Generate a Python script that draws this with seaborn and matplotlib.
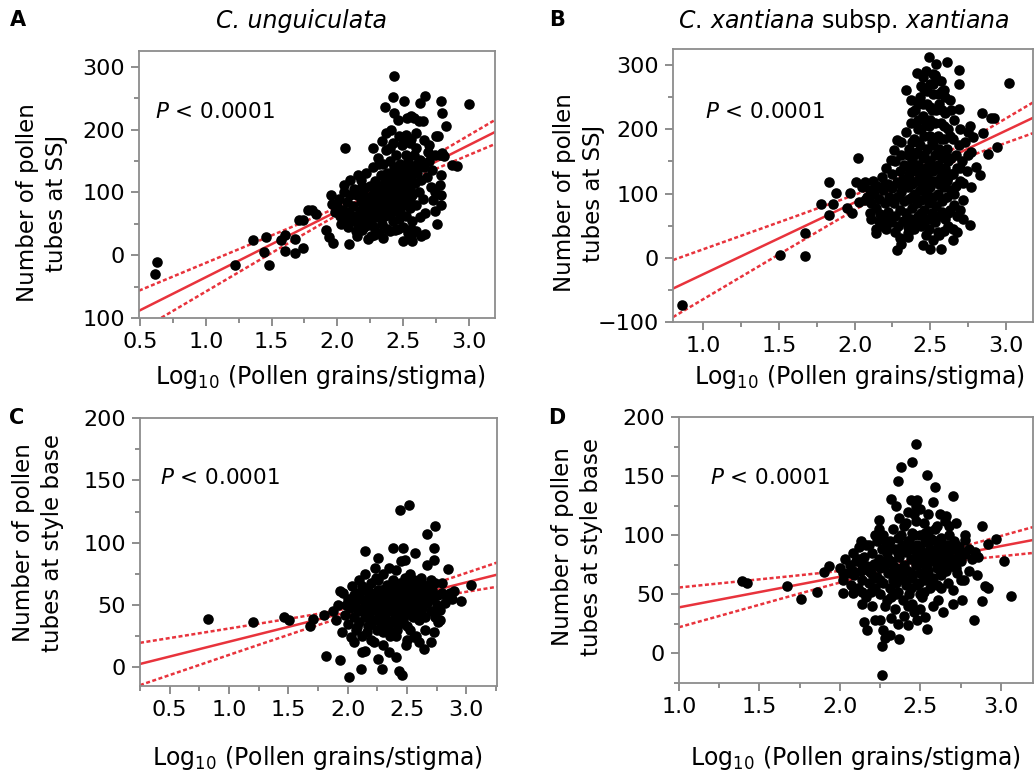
import numpy as np
import pandas as pd
import matplotlib
matplotlib.use("Agg")
import matplotlib.pyplot as plt
import seaborn as sns
from matplotlib.ticker import MultipleLocator, FormatStrFormatter, FixedLocator, FixedFormatter

sns.set_style("ticks")
plt.rcParams["font.family"] = ["DejaVu Sans"]
plt.rcParams["mathtext.fontset"] = "dejavusans"
plt.rcParams["text.color"] = "black"
plt.rcParams["xtick.labelcolor"] = "black"
plt.rcParams["ytick.labelcolor"] = "black"

RED = "#e8333c"

# Panel A: C. unguiculata, pollen tubes at SSJ  (log10 pollen grains/stigma, count)
ssj_ung = [
    (0.61, -30), (0.63, -11), (1.22, -16), (1.36, 24), (1.46, 29), (1.44, 5), (1.48, -16),
    (1.57, 24), (1.60, 32), (1.60, 6), (1.68, 26), (1.68, 4), (1.74, 12), (1.71, 56),
    (1.74, 56), (1.78, 72), (1.81, 72), (1.84, 65), (1.91, 40), (1.94, 29), (1.97, 20),
    (2.06, 171), (2.09, 17), (2.26, 30),
    (1.95, 95), (1.96, 82), (1.98, 68), (2.00, 78), (2.01, 90), (2.02, 62), (2.03, 50),
    (2.04, 72), (2.05, 112), (2.05, 100), (2.06, 58), (2.07, 84), (2.08, 45), (2.09, 68),
    (2.10, 95), (2.10, 120), (2.11, 55), (2.13, 105), (2.14, 38), (2.16, 128), (2.19, 110),
    (2.23, 25), (2.28, 32),
    (2.12, 78), (2.14, 62), (2.15, 95), (2.16, 50), (2.17, 70), (2.18, 85), (2.18, 120),
    (2.19, 40), (2.20, 105), (2.20, 58), (2.21, 75), (2.22, 92), (2.22, 130), (2.23, 48),
    (2.24, 66), (2.25, 110), (2.25, 84), (2.26, 55), (2.27, 140), (2.27, 98), (2.28, 72),
    (2.28, 45), (2.29, 118), (2.30, 88), (2.30, 60), (2.31, 155), (2.31, 102), (2.32, 78),
    (2.32, 35), (2.33, 128), (2.33, 92), (2.34, 68), (2.34, 50), (2.35, 145), (2.35, 112),
    (2.36, 85), (2.36, 62), (2.37, 168), (2.37, 100), (2.38, 130), (2.38, 75), (2.38, 42),
    (2.39, 115), (2.39, 92), (2.40, 150), (2.40, 65), (2.41, 105), (2.41, 80), (2.42, 178),
    (2.42, 125), (2.42, 55), (2.43, 140), (2.43, 95), (2.44, 110), (2.44, 70), (2.44, 40),
    (2.45, 160), (2.45, 85), (2.46, 130), (2.46, 100), (2.47, 120), (2.47, 58), (2.48, 145),
    (2.48, 90), (2.48, 72), (2.49, 175), (2.50, 110), (2.50, 80), (2.50, 45), (2.51, 135),
    (2.51, 98), (2.52, 160), (2.52, 62), (2.53, 118), (2.53, 88), (2.54, 148), (2.54, 35),
    (2.55, 105), (2.55, 75), (2.56, 128), (2.56, 185), (2.57, 95), (2.57, 55), (2.58, 140),
    (2.59, 115), (2.60, 80), (2.60, 170), (2.61, 130), (2.62, 100), (2.63, 152), (2.63, 60),
    (2.64, 120), (2.65, 90), (2.66, 140), (2.66, 183), (2.68, 125), (2.70, 150), (2.71, 108),
    (2.72, 135), (2.74, 100),
    (2.36, 236), (2.42, 252), (2.43, 226), (2.51, 245), (2.63, 243), (2.67, 254), (2.79, 245),
    (2.80, 226), (2.83, 205), (3.00, 240), (2.77, 189), (2.87, 143), (2.91, 142), (2.79, 128),
    (2.78, 112), (2.79, 96), (2.79, 80), (2.73, 88), (2.74, 70), (2.76, 50), (2.67, 67),
    (2.67, 33), (2.57, 22), (2.56, 41), (2.80, 163), (2.74, 160), (2.37, 194), (2.58, 218),
    (2.56, 221), (2.62, 213), (2.65, 213), (2.53, 218), (2.43, 285), (2.46, 215), (2.41, 200),
    (2.52, 192), (2.60, 194), (2.75, 190), (2.27, 170), (2.34, 182), (2.50, 180), (2.55, 178),
    (2.69, 165), (2.78, 160), (2.81, 158), (2.70, 175), (2.56, 30), (2.60, 38), (2.64, 30),
    (2.50, 22), (2.46, 42), (2.40, 38), (2.35, 28), (2.20, 45), (2.15, 30),
    (2.30, 110), (2.33, 80), (2.36, 120), (2.39, 85), (2.41, 130), (2.44, 95), (2.46, 72),
    (2.49, 125), (2.52, 105), (2.55, 90), (2.58, 160), (2.61, 145), (2.47, 190), (2.40, 170),
    (2.32, 145), (2.26, 80), (2.22, 68), (2.18, 95), (2.53, 135), (2.57, 118),
]

# Panel B: C. xantiana subsp. xantiana, pollen tubes at SSJ
ssj_xan = [
    (0.86, -73), (1.51, 5), (1.67, 3), (1.67, 39), (1.78, 84), (1.83, 118), (1.83, 66),
    (1.86, 84), (1.88, 101), (1.95, 78), (1.97, 101), (1.98, 69), (2.02, 155), (2.01, 118),
    (2.03, 87), (2.07, 90), (2.10, 69), (2.11, 61), (2.14, 45), (2.14, 38), (2.28, 12),
    (2.31, 22), (2.35, 32), (2.45, 20), (2.50, 14), (2.57, 14), (2.56, 35), (2.65, 27),
    (2.65, 45), (2.76, 51), (3.02, 272), (2.84, 225), (2.90, 217), (2.92, 217), (2.85, 194),
    (2.94, 173), (2.88, 162), (2.83, 129), (2.80, 142), (2.77, 165), (2.78, 188), (2.75, 196),
    (2.72, 116), (2.77, 110), (2.69, 292), (2.69, 271), (2.69, 232), (2.61, 305), (2.54, 302),
    (2.49, 313), (2.41, 287), (2.52, 286), (2.34, 261), (2.37, 245), (2.38, 227), (2.28, 183),
    (2.26, 167), (2.24, 152), (2.31, 180), (2.45, 282), (2.52, 271), (2.59, 261),
    (2.05, 110), (2.07, 118), (2.08, 95), (2.10, 105), (2.11, 85), (2.12, 120), (2.13, 100),
    (2.14, 78), (2.15, 112), (2.16, 92), (2.17, 68), (2.18, 125), (2.19, 105), (2.20, 85),
    (2.20, 60), (2.21, 140), (2.22, 115), (2.22, 72), (2.23, 95), (2.24, 55), (2.25, 130),
    (2.25, 108), (2.16, 58), (2.18, 50), (2.21, 45), (2.23, 62),
    (2.26, 85), (2.27, 150), (2.27, 65), (2.28, 118), (2.28, 95), (2.29, 50), (2.30, 135),
    (2.30, 75), (2.31, 160), (2.31, 102), (2.32, 58), (2.32, 122), (2.33, 88), (2.33, 145),
    (2.34, 70), (2.34, 195), (2.35, 110), (2.35, 48), (2.36, 170), (2.36, 130), (2.36, 92),
    (2.37, 60), (2.37, 210), (2.38, 150), (2.38, 115), (2.38, 78), (2.39, 185), (2.39, 98),
    (2.40, 135), (2.40, 55), (2.40, 230),
    (2.41, 165), (2.41, 120), (2.41, 85), (2.42, 200), (2.42, 145), (2.42, 65), (2.43, 105),
    (2.43, 250), (2.43, 175), (2.44, 130), (2.44, 90), (2.44, 50), (2.45, 220), (2.45, 155),
    (2.45, 115), (2.46, 75), (2.46, 190), (2.46, 262), (2.47, 140), (2.47, 100), (2.47, 60),
    (2.48, 240), (2.48, 170), (2.48, 125), (2.49, 85), (2.49, 205), (2.49, 45), (2.50, 150),
    (2.50, 110), (2.50, 270), (2.51, 180), (2.51, 70), (2.51, 230), (2.52, 135), (2.52, 95),
    (2.52, 255), (2.53, 160), (2.53, 55), (2.53, 210), (2.54, 120), (2.54, 80), (2.54, 280),
    (2.55, 190), (2.55, 145), (2.55, 100), (2.55, 40),
    (2.56, 240), (2.56, 170), (2.56, 65), (2.57, 125), (2.57, 210), (2.58, 155), (2.58, 88),
    (2.58, 260), (2.59, 185), (2.59, 110), (2.60, 140), (2.60, 60), (2.60, 225), (2.61, 170),
    (2.61, 95), (2.62, 200), (2.62, 125), (2.63, 75), (2.63, 245), (2.64, 155), (2.64, 105),
    (2.65, 185), (2.65, 130), (2.66, 82), (2.66, 215), (2.67, 160), (2.67, 112), (2.68, 140),
    (2.68, 65), (2.69, 175), (2.70, 120), (2.70, 200), (2.71, 150), (2.72, 90), (2.73, 180),
    (2.74, 135), (2.75, 160), (2.76, 205),
    (2.27, 40), (2.30, 30), (2.35, 38), (2.39, 45), (2.47, 35), (2.52, 28), (2.59, 42),
    (2.62, 50), (2.68, 40), (2.70, 75), (2.72, 60),
    (2.44, 268), (2.47, 290), (2.53, 285), (2.57, 275), (2.60, 250), (2.50, 215), (2.42, 240),
    (2.38, 180), (2.35, 160), (2.64, 230),
    (2.36, 140), (2.37, 120), (2.39, 160), (2.40, 100), (2.41, 140), (2.42, 180), (2.43, 125),
    (2.44, 200), (2.45, 135), (2.46, 160), (2.47, 210), (2.48, 105), (2.49, 150), (2.50, 190),
    (2.51, 120), (2.52, 175), (2.53, 140), (2.54, 230), (2.55, 165), (2.56, 115), (2.57, 185),
    (2.58, 135), (2.59, 205), (2.60, 160), (2.61, 120), (2.62, 150), (2.63, 190), (2.64, 130),
    (2.45, 240), (2.50, 235), (2.55, 255), (2.48, 260), (2.42, 215), (2.58, 230), (2.46, 110),
    (2.50, 90), (2.54, 65), (2.58, 72), (2.44, 70), (2.38, 95), (2.33, 110), (2.30, 115),
    (2.25, 90), (2.20, 115), (2.62, 70), (2.66, 100), (2.70, 140), (2.50, 60), (2.46, 55),
]

# Panel C: C. unguiculata, pollen tubes at style base
base_ung = [
    (0.82, 39), (1.20, 36), (1.46, 40), (1.51, 38), (1.68, 33), (1.71, 39), (1.80, 42),
    (1.82, 9), (1.94, 6), (2.01, -8), (2.11, -1), (2.29, -1), (2.43, -3), (2.46, -6),
    (2.41, 8), (2.26, 7), (2.35, 12), (2.15, 13), (2.44, 126), (2.52, 130), (2.74, 113),
    (2.67, 107), (2.73, 96), (2.73, 86), (2.67, 82), (2.15, 93), (2.26, 88), (2.38, 96),
    (2.47, 96), (2.57, 92), (2.48, 86), (2.85, 79), (3.04, 66), (2.96, 53), (2.90, 61),
    (2.88, 55), (2.73, 28), (2.64, 15), (2.49, 18), (2.60, 20), (2.56, 24), (2.41, 25),
    (1.94, 61),
    (1.88, 45), (1.90, 38), (1.92, 50), (1.95, 28), (1.96, 60), (1.98, 42), (2.00, 35),
    (2.00, 55), (2.02, 48), (2.03, 24), (2.04, 65), (2.05, 40), (2.06, 52), (2.07, 30),
    (2.08, 60), (2.09, 45), (2.10, 70), (2.10, 36), (2.11, 55), (2.12, 25), (2.13, 48),
    (2.14, 62), (2.15, 40), (2.15, 75), (2.16, 52), (2.17, 33), (2.18, 58), (2.19, 45),
    (2.20, 68), (2.20, 22), (2.21, 50), (2.22, 38), (2.23, 60), (2.23, 80), (2.24, 46),
    (2.25, 30), (2.25, 55), (2.26, 70), (2.27, 42), (2.28, 62), (2.28, 35), (2.29, 50),
    (2.30, 75), (2.30, 28), (2.31, 57), (2.32, 44), (2.33, 66), (2.33, 38), (2.34, 52),
    (2.35, 80), (2.35, 30), (2.36, 60), (2.37, 46), (2.38, 70), (2.38, 36), (2.39, 55),
    (2.40, 42), (2.40, 64), (2.41, 78), (2.42, 50), (2.42, 30), (2.43, 58), (2.44, 68),
    (2.45, 45), (2.45, 85), (2.46, 56), (2.47, 38), (2.48, 62), (2.48, 72), (2.49, 50),
    (2.50, 58), (2.50, 33), (2.51, 66), (2.52, 48), (2.53, 75), (2.54, 55), (2.55, 40),
    (2.55, 62), (2.56, 70), (2.57, 52), (2.58, 60), (2.59, 45), (2.60, 65), (2.60, 38),
    (2.61, 55), (2.62, 72), (2.63, 48), (2.64, 60), (2.65, 40), (2.66, 65), (2.67, 52),
    (2.68, 58), (2.70, 45), (2.71, 62), (2.72, 55), (2.74, 68), (2.75, 50), (2.76, 58),
    (2.78, 46), (2.80, 60), (2.82, 52), (2.84, 56), (2.86, 60),
    (2.14, 47), (2.18, 40), (2.22, 57), (2.26, 48), (2.30, 62), (2.34, 45), (2.37, 57),
    (2.41, 50), (2.44, 40), (2.47, 63), (2.51, 45), (2.54, 67), (2.58, 50), (2.62, 58),
    (2.20, 35), (2.30, 42), (2.40, 58), (2.50, 52), (2.60, 50), (2.27, 55), (2.33, 50),
    (2.39, 62), (2.46, 48), (2.52, 58), (2.57, 65), (2.63, 67), (2.69, 60), (2.05, 58),
    (1.99, 50), (2.08, 32), (2.12, 65), (2.16, 28), (2.24, 72), (2.36, 25), (2.43, 35),
    (2.53, 30), (2.65, 30), (2.78, 38), (2.80, 68), (2.70, 70),
    (2.05, 20), (2.12, 12), (2.22, 20), (2.30, 18), (2.50, 22), (2.58, 25), (2.70, 20),
    (2.74, 40), (2.76, 36),
    (2.20, 55), (2.25, 45), (2.30, 52), (2.35, 65), (2.38, 52), (2.42, 60), (2.46, 66),
    (2.50, 70), (2.53, 62), (2.56, 55), (2.60, 58), (2.64, 52), (2.68, 65), (2.32, 35),
    (2.44, 50), (2.26, 62), (2.17, 62), (2.48, 42), (2.55, 48), (2.62, 45),
]

# Panel D: C. xantiana subsp. xantiana, pollen tubes at style base
base_xan = [
    (1.39, 61), (1.42, 60), (1.67, 57), (1.76, 46), (1.86, 52), (1.90, 69), (1.93, 74),
    (2.47, 177), (2.45, 162), (2.38, 158), (2.54, 151), (2.36, 146), (2.59, 141), (2.70, 133),
    (2.32, 131), (2.58, 128), (2.48, 130), (2.24, 113), (2.88, 108), (2.97, 97), (2.92, 93),
    (3.02, 78), (3.06, 49), (2.90, 57), (2.92, 55), (2.88, 44), (2.83, 28), (2.76, 45),
    (2.85, 66), (2.26, -18), (2.26, 6), (2.28, 13), (2.31, 16), (2.37, 12), (2.15, 27),
    (2.17, 20), (2.22, 28), (2.25, 28), (2.54, 21), (2.42, 24), (2.53, 31), (2.14, 42),
    (2.14, 52), (2.02, 68), (2.02, 51), (2.08, 51), (2.13, 95), (2.78, 96), (2.72, 110),
    (2.66, 116),
    (2.00, 72), (2.02, 62), (2.03, 80), (2.05, 68), (2.06, 75), (2.07, 58), (2.08, 85),
    (2.09, 66), (2.10, 78), (2.11, 55), (2.12, 90), (2.13, 70), (2.14, 62), (2.15, 82),
    (2.16, 48), (2.17, 74), (2.18, 92), (2.18, 60), (2.19, 68), (2.20, 85), (2.20, 40),
    (2.21, 76), (2.22, 55), (2.23, 95), (2.23, 65), (2.24, 80), (2.25, 50), (2.25, 72),
    (2.26, 88), (2.27, 60), (2.27, 100), (2.28, 75), (2.29, 45), (2.29, 85), (2.30, 68),
    (2.31, 95), (2.31, 55), (2.32, 78), (2.33, 105), (2.33, 62), (2.34, 88), (2.34, 38),
    (2.35, 72), (2.36, 98), (2.36, 52), (2.37, 82), (2.37, 115), (2.38, 65), (2.39, 92),
    (2.39, 45), (2.40, 75), (2.40, 108), (2.41, 58), (2.41, 86), (2.42, 120), (2.42, 70),
    (2.43, 95), (2.43, 50), (2.44, 80), (2.45, 102), (2.45, 64), (2.46, 88), (2.46, 35),
    (2.47, 75), (2.47, 112), (2.48, 58), (2.48, 92), (2.49, 82), (2.50, 68), (2.50, 100),
    (2.51, 48), (2.51, 86), (2.52, 76), (2.52, 110), (2.53, 62), (2.53, 94), (2.54, 82),
    (2.55, 70), (2.55, 104), (2.56, 55), (2.56, 88), (2.57, 78), (2.58, 96), (2.58, 64),
    (2.59, 84), (2.60, 108), (2.60, 72), (2.61, 90), (2.61, 45), (2.62, 80), (2.63, 98),
    (2.63, 66), (2.64, 86), (2.65, 76), (2.65, 112), (2.66, 92), (2.67, 60), (2.67, 84),
    (2.68, 100), (2.69, 74), (2.70, 88), (2.70, 54), (2.71, 95), (2.72, 80), (2.73, 68),
    (2.74, 90), (2.75, 78), (2.76, 86), (2.77, 62), (2.78, 84), (2.80, 88), (2.82, 80),
    (2.84, 86), (2.86, 82),
    (2.16, 92), (2.21, 64), (2.26, 75), (2.30, 80), (2.35, 60), (2.38, 90), (2.44, 68),
    (2.49, 60), (2.54, 95), (2.57, 86), (2.62, 70), (2.66, 80), (2.72, 92), (2.12, 80),
    (2.19, 52), (2.28, 40), (2.32, 30), (2.40, 32), (2.45, 42), (2.50, 38), (2.58, 40),
    (2.64, 35), (2.70, 42), (2.75, 62), (2.80, 70), (2.24, 105), (2.35, 125), (2.50, 122),
    (2.55, 118), (2.62, 118), (2.68, 108), (2.78, 100), (2.32, 48), (2.42, 40), (2.52, 52),
    (2.60, 58), (2.47, 125), (2.44, 130), (2.27, 20), (2.36, 25), (2.48, 28), (2.22, 100),
    (2.14, 75), (2.08, 70),
    (2.30, 90), (2.33, 75), (2.36, 85), (2.39, 70), (2.42, 95), (2.44, 88), (2.46, 100),
    (2.48, 75), (2.50, 88), (2.52, 65), (2.54, 72), (2.56, 98), (2.58, 80), (2.60, 88),
    (2.62, 95), (2.64, 75), (2.66, 70), (2.68, 90), (2.70, 80), (2.72, 72), (2.74, 85),
    (2.38, 100), (2.41, 110), (2.46, 118), (2.53, 102), (2.59, 105), (2.28, 95), (2.25, 62),
    (2.22, 75), (2.18, 70), (2.35, 50), (2.44, 55), (2.50, 50), (2.56, 62), (2.63, 55),
    (2.40, 62), (2.34, 68), (2.47, 82), (2.61, 78), (2.67, 92),
]

# regression line and 95% band (A, B, C, D)
fit_slope = [105.0, 111.7, 23.8, 25.9]
fit_icpt = [-140.0, -137.3, -3.25, 13.1]
band_center = [2.20, 2.36, 2.18, 2.34]
band_min = [5.0, 6.0, 2.5, 2.5]
band_growth = [18.5, 28.2, 8.7, 12.4]

panels = [
    dict(pts=ssj_ung, rect=[0.1344, 0.5897, 0.3443, 0.3445], xlim=(0.49, 3.2), ylim=(-100, 325),
         ymaj=100, ymin=50, letter="A"),
    dict(pts=ssj_xan, rect=[0.6509, 0.5845, 0.3482, 0.3523], xlim=(0.8, 3.18), ylim=(-100, 325),
         ymaj=100, ymin=50, letter="B"),
    dict(pts=base_ung, rect=[0.1354, 0.1148, 0.3453, 0.3458], xlim=(0.25, 3.26), ylim=(-15, 200),
         ymaj=50, ymin=25, letter="C"),
    dict(pts=base_xan, rect=[0.6567, 0.1187, 0.3424, 0.3432], xlim=(1.0, 3.2), ylim=(-25, 200),
         ymaj=50, ymin=25, letter="D"),
]

fig = plt.figure(figsize=(10.34, 7.75), dpi=100)

def fx(px):
    return px / 1034

def fy(py):
    return 1 - py / 775

for i, p in enumerate(panels):
    ax = fig.add_axes(p["rect"])
    df = pd.DataFrame(p["pts"], columns=["x", "y"])

    xs = np.linspace(p["xlim"][0], p["xlim"][1], 200)
    fit = fit_icpt[i] + fit_slope[i] * xs
    half = np.sqrt(band_min[i] ** 2 + (band_growth[i] * (xs - band_center[i])) ** 2)
    lines = pd.DataFrame({
        "x": np.tile(xs, 3),
        "y": np.concatenate([fit, fit + half, fit - half]),
        "part": ["fit"] * len(xs) + ["upper"] * len(xs) + ["lower"] * len(xs),
    })
    sns.lineplot(data=lines, x="x", y="y", style="part", units="part", estimator=None,
                 dashes={"fit": "", "upper": (1.6, 1.0), "lower": (1.6, 1.0)},
                 color=RED, linewidth=1.8, legend=False, ax=ax, zorder=1)
    sns.scatterplot(data=df, x="x", y="y", color="black", s=58, linewidth=0, ax=ax, zorder=2)

    ax.set_xlim(*p["xlim"])
    ax.set_ylim(*p["ylim"])
    ax.set_xlabel("")
    ax.set_ylabel("")
    ax.xaxis.set_major_locator(MultipleLocator(0.5))
    ax.xaxis.set_minor_locator(MultipleLocator(0.25))
    ax.xaxis.set_major_formatter(FormatStrFormatter("%.1f"))
    ax.yaxis.set_major_locator(MultipleLocator(p["ymaj"]))
    ax.yaxis.set_minor_locator(MultipleLocator(p["ymin"]))
    if p["letter"] == "A":
        # the minus sign of the lowest label is cut off in the original
        ax.yaxis.set_major_locator(FixedLocator([-100, 0, 100, 200, 300]))
        ax.yaxis.set_major_formatter(FixedFormatter(["100", "0", "100", "200", "300"]))
    for s in ax.spines.values():
        s.set_visible(True)
        s.set_color("#8c8c8c")
        s.set_linewidth(1.3)
    ax.tick_params(which="both", direction="out", color="#6f6f6f", width=1.1,
                   top=False, right=False)
    ax.tick_params(which="major", length=6, labelsize=16, pad=4, labelcolor="black")
    ax.tick_params(which="minor", length=3.5)

p_pos = [(155, 112), (705, 112), (160, 478), (710, 478)]
for (px, py) in p_pos:
    fig.text(fx(px), fy(py), r"$P$ < 0.0001", fontsize=15.5, ha="left", va="center")

letters = [("A", 18, 20), ("B", 557, 20), ("C", 17, 418), ("D", 557, 418)]
for t, px, py in letters:
    fig.text(fx(px), fy(py), t, fontsize=15, fontweight="bold", ha="center", va="center")

fig.text(fx(301), fy(21), "C. unguiculata", fontsize=17, style="italic", ha="center", va="center")
fig.text(fx(844), fy(21), r"$\mathit{C.\,xantiana}$ subsp. $\mathit{xantiana}$",
         fontsize=17, ha="center", va="center")

ylabels = [("Number of pollen\ntubes at SSJ", 42, 203), ("Number of pollen\ntubes at SSJ", 579, 193),
           ("Number of pollen\ntubes at style base", 38, 543), ("Number of pollen\ntubes at style base", 577, 547)]
for t, px, py in ylabels:
    fig.text(fx(px), fy(py), t, fontsize=16.5, rotation=90, ha="center", va="center",
             multialignment="center", linespacing=1.35)

xl = r"Log$_{10}$ (Pollen grains/stigma)"
for px, py in [(320, 377), (859, 377), (317, 758), (855, 758)]:
    fig.text(fx(px), fy(py), xl, fontsize=17, ha="center", va="center")

plt.savefig("out.png", dpi=100)
plt.close()
